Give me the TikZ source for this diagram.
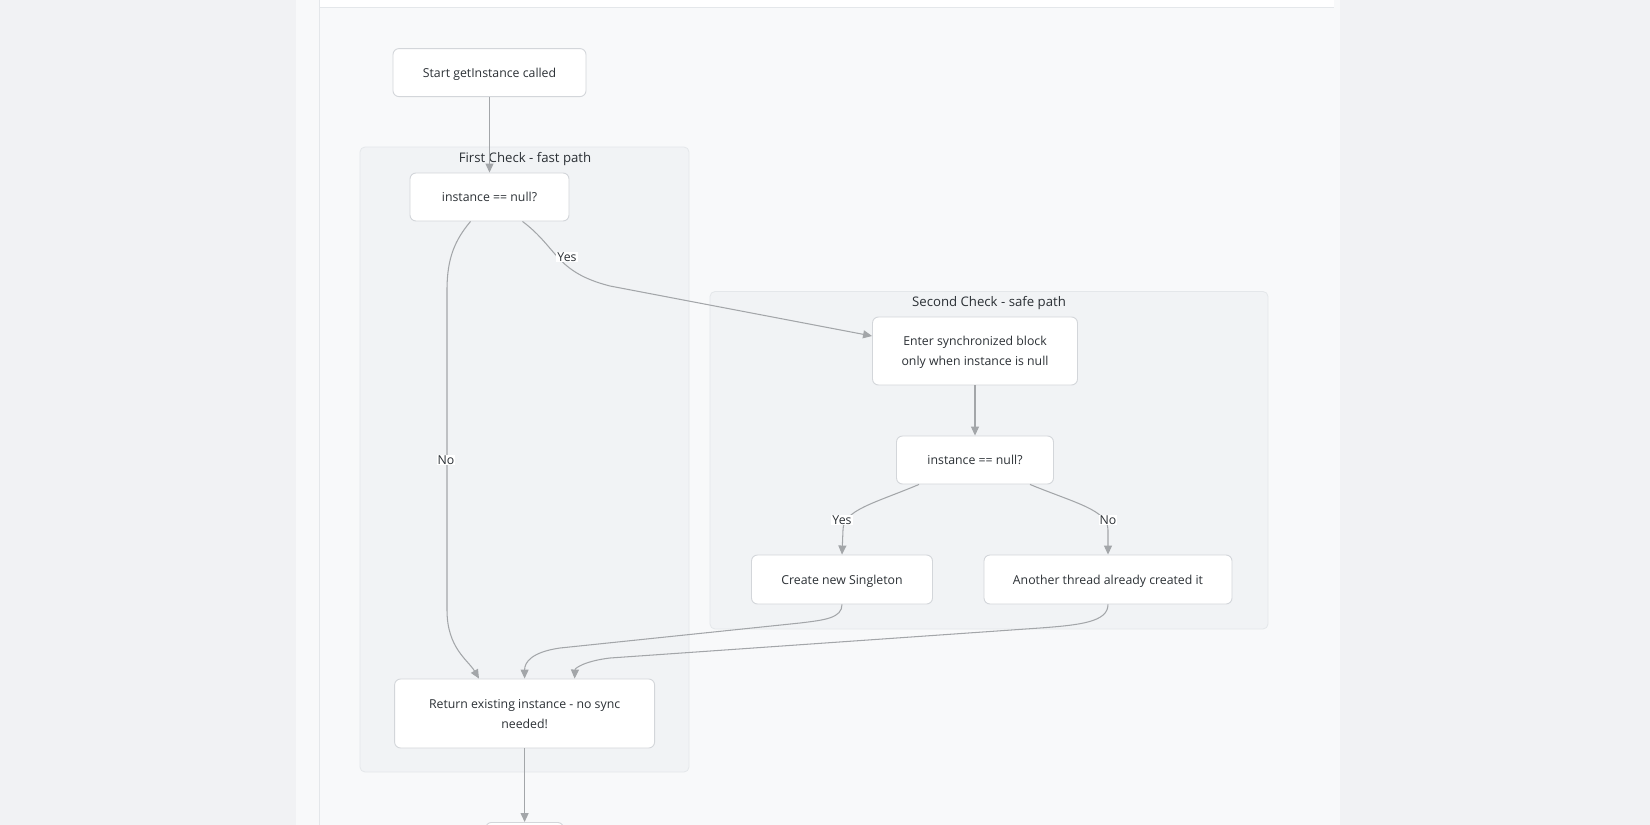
\documentclass[tikz,border=0pt]{standalone}
\usepackage{fontspec}
\setmainfont{Open Sans}
\usetikzlibrary{arrows.meta,calc}
\definecolor{outerbg}{HTML}{F1F2F4}
\definecolor{panelbg}{HTML}{F8F9FA}
\definecolor{clusterbg}{HTML}{F1F3F5}
\definecolor{clusterline}{HTML}{E4E7EA}
\definecolor{nodeline}{HTML}{D3D6DA}
\definecolor{edgecol}{HTML}{A3A6A9}
\definecolor{txt}{HTML}{2B3035}
\begin{document}
\begin{tikzpicture}[x=1pt,y=-1pt,
  font=\fontsize{12.3}{20}\selectfont,
  box/.style={draw=nodeline, fill=white, rounded corners=6pt, line width=0.9pt, align=center, text=txt, inner sep=0pt, text depth=-2pt},
  cluster/.style={draw=clusterline, fill=clusterbg, rounded corners=5pt, line width=0.8pt},
  edge/.style={draw=edgecol, line width=1.05pt, -{Triangle[length=9pt,width=8pt]}},
  lbl/.style={fill=white, text=txt, inner sep=1pt},
  ctitle/.style={text=txt, font=\fontsize{13.2}{15}\selectfont}]
\useasboundingbox (0,0) rectangle (1650,825);
% page background
\fill[outerbg] (0,0) rectangle (1650,825);
\fill[panelbg] (296,0) rectangle (1340,825);
\fill[white] (319,0) rectangle (1334,7);
\draw[clusterline, line width=0.8pt] (319,7) -- (1334,7);
\draw[clusterline, line width=0.8pt] (319,0) -- (319,825);
% clusters
\draw[cluster] (360,147) rectangle (689,772);
\node[ctitle] (t1) at (525,159) {First Check - fast path};
\draw[cluster] (710,291.5) rectangle (1268,629);
\node[ctitle] (t2) at (989,303) {Second Check - safe path};
% nodes
\node[box, minimum width=193, minimum height=48] (start) at (489.5,72.6) {Start getInstance called};
\node[box, minimum width=159, minimum height=48] (n1) at (489.5,197) {instance == null?};
\node[box, minimum width=205, minimum height=68] (enter) at (975,351) {Enter synchronized block\\only when instance is null};
\node[box, minimum width=157, minimum height=48] (n2) at (975,460) {instance == null?};
\node[box, minimum width=181, minimum height=49] (create) at (842,579.5) {Create new Singleton};
\node[box, minimum width=248, minimum height=49] (another) at (1108,579.5) {Another thread already created it};
\node[box, minimum width=260, minimum height=69] (ret) at (524.6,713.5) {Return existing instance - no sync\\needed!};
\node[box, minimum width=78, minimum height=40, anchor=north] (fin) at (524.6,822) {};
% edges
\draw[edge] (start) -- (n1);
\draw[edge] ([xshift=-19pt]n1.south) .. controls (455,240) and (447,258) .. (447,290) -- (447,610)
   .. controls (447,648) and (468,660) .. ([xshift=-45.6pt]ret.north);
\node[lbl] (lno) at (446,460) {No};
\draw[edge] ([xshift=33pt]n1.south) .. controls (558,248) and (555,272) .. (610,286) -- ([yshift=15pt]enter.west);
\node[lbl] (lyes) at (567,257) {Yes};
\draw[edge] (enter) -- (n2);
\draw[edge] ([xshift=-56pt]n2.south) .. controls (875,503) and (843,510) .. (843,530) -- (create.north);
\node[lbl] (lyes2) at (842,520) {Yes};
\draw[edge] ([xshift=55pt]n2.south) .. controls (1075,503) and (1108,510) .. (1108,530) -- (another.north);
\node[lbl] (lno2) at (1108,520) {No};
\draw[edge] (create.south) .. controls (842,618) and (825,620) .. (800,623) -- (560,648)
   .. controls (532,652) and (524.6,662) .. (ret.north);
\draw[edge] (another.south) .. controls (1108,622) and (1080,625) .. (1040,628) -- (610,658)
   .. controls (585,661) and (575,668) .. ([xshift=50pt]ret.north);
\draw[edge] (ret) -- (fin);
\end{tikzpicture}
\end{document}
